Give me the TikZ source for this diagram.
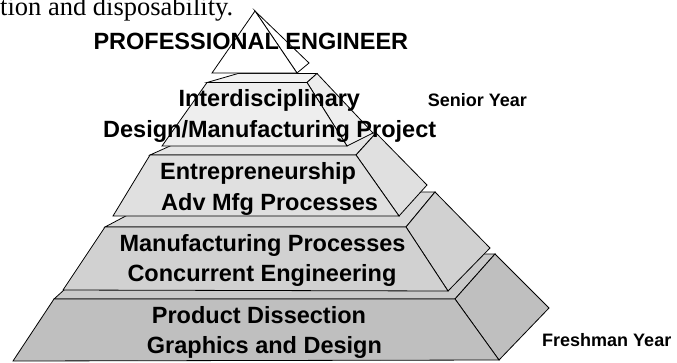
\documentclass[tikz,border=0pt]{standalone}
\usepackage{fontspec}
\setmainfont{Liberation Sans}
\newfontfamily\serifx{Liberation Serif}
\definecolor{tierA}{gray}{0.75}
\definecolor{tierAtop}{gray}{0.79}
\definecolor{tierB}{gray}{0.82}
\definecolor{tierBtop}{gray}{0.85}
\definecolor{tierC}{gray}{0.88}
\definecolor{tierCtop}{gray}{0.90}
\definecolor{tierD}{gray}{0.935}
\definecolor{tierDtop}{gray}{0.95}
\tikzset{
  face/.style={draw=black, line width=0.8pt, line join=miter},
  lbl/.style={font=\fontsize{23.5}{28}\selectfont\bfseries, inner sep=0pt, anchor=base west},
  yr/.style={font=\fontsize{18}{22}\selectfont\bfseries, inner sep=0pt, anchor=base west},
  doc/.style={font=\serifx\fontsize{26.5}{30}\selectfont, inner sep=0pt, anchor=base west}
}
\begin{document}
\begin{tikzpicture}[x=1pt,y=-1pt]
\useasboundingbox (0,0) rectangle (677,362);
\clip (0,0) rectangle (677,362);
% tier 1 (bottom)
\filldraw[face, fill=tierAtop] (54,299) -- (104,254) -- (495,254) -- (455,299) -- cycle;
\filldraw[face, fill=tierA] (455,299) -- (495,254) -- (549,308) -- (499,360) -- cycle;
\filldraw[face, fill=tierA] (54,299) -- (455,299) -- (499,360) -- (13,361) -- cycle;
% tier 2
\filldraw[face, fill=tierBtop] (105,227) -- (171,192) -- (435,192) -- (406,227) -- cycle;
\filldraw[face, fill=tierB] (406,227) -- (435,192) -- (490,248) -- (448,291) -- cycle;
\filldraw[face, fill=tierB] (105,227) -- (406,227) -- (448,291) -- (63,290) -- cycle;
% tier 3
\filldraw[face, fill=tierCtop] (150,155) -- (199,133) -- (376,133) -- (356,155) -- cycle;
\filldraw[face, fill=tierC] (356,155) -- (376,133) -- (427,185) -- (399,216) -- cycle;
\filldraw[face, fill=tierC] (150,155) -- (356,155) -- (399,216) -- (113,216) -- cycle;
% tier 4
\filldraw[face, fill=tierDtop] (207,82.5) -- (238,73.5) -- (317,73.5) -- (307,82.5) -- cycle;
\filldraw[face, fill=tierD] (307,82.5) -- (317,73.5) -- (373,133) -- (347,146) -- cycle;
\filldraw[face, fill=tierD] (207,82.5) -- (307,82.5) -- (347,146) -- (162,146) -- cycle;
% apex
\filldraw[face, fill=white] (255,11) -- (309,63) -- (297,73) -- cycle;
\filldraw[face, fill=white] (255,11) -- (297,73) -- (212,73) -- cycle;
% texts
\node[doc] (docline) at (0,15) {tion and disposability.};
\node[lbl] (pe) at (93.3,49.3) {PROFESSIONAL ENGINEER};
\node[lbl] (d1) at (178.3,106) {Interdisciplinary};
\node[lbl] (d2) at (103,137.7) {Design/Manufacturing Project};
\node[lbl] (c1) at (160,179) {Entrepreneurship};
\node[lbl] (c2) at (161,210) {Adv Mfg Processes};
\node[lbl] (b1) at (119.3,251.7) {Manufacturing Processes};
\node[lbl] (b2) at (127.3,281.7) {Concurrent Engineering};
\node[lbl] (a1) at (151.7,323.3) {Product Dissection};
\node[lbl] (a2) at (146.7,353.8) {Graphics and Design};
\node[yr] (senior) at (427.7,106) {Senior Year};
\node[yr] (fresh) at (542,346) {Freshman Year};
\end{tikzpicture}
\end{document}
